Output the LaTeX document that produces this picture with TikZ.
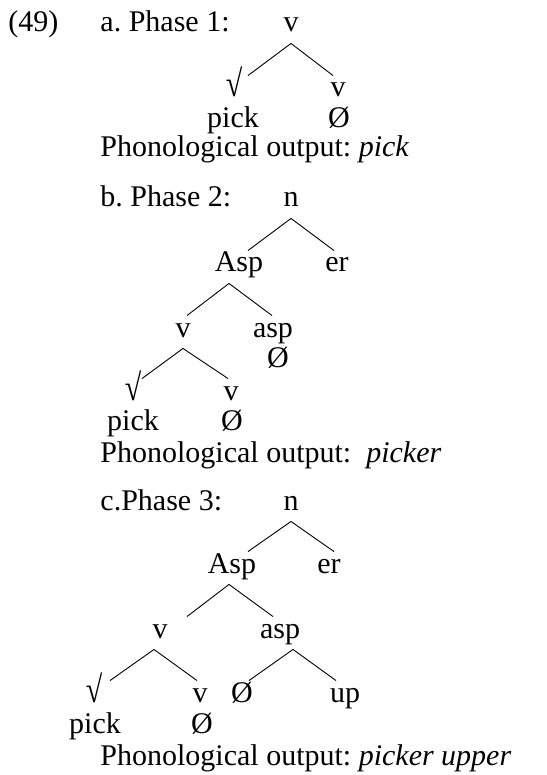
\documentclass[tikz,border=0pt]{standalone}
\usepackage{fontspec}
\setmainfont{Liberation Serif}
\frenchspacing
\newcommand{\rootsym}{\scalebox{1}[1.25]{√}}
\tikzset{
  every picture/.style={line width=0.9pt, x=1pt, y=-1pt, font=\fontsize{30}{36}\selectfont},
  lab/.style={inner sep=0pt, anchor=base, text height=21pt, text depth=11pt},
  txt/.style={inner sep=0pt, anchor=base west},
  branch/.style={draw=black, line width=0.9pt},
}

\begin{document}
\begin{tikzpicture}
  \useasboundingbox (0,0) rectangle (546,775);
  % a. phase 1
  \node[txt] (ex) at (8,32) {(49)};
  \node[txt] (pa) at (100,32) {a. Phase 1:};
  \node[lab] (a-v) at (291,32) {v};
  \node[lab] (a-rt) at (234,97) {\rootsym};
  \node[lab] (a-vv) at (338,97) {v};
  \node[lab] (a-pick) at (233,128) {pick};
  \node[lab] (a-nul) at (339,128) {Ø};
  \node[txt] (a-out) at (100,157) {Phonological output: \textit{pick}};
  \draw[branch] (a-v.south) -- ([xshift=14pt]a-rt.north);
  \draw[branch] (a-v.south) -- ([xshift=-5pt]a-vv.north);

  % b. phase 2
  \node[txt] (pb) at (100,207) {b. Phase 2:};
  \node[lab] (b-n) at (291,207) {n};
  \node[lab] (b-Asp) at (239,272) {Asp};
  \node[lab] (b-er) at (337,272) {er};
  \node[lab] (b-v) at (183,337) {v};
  \node[lab] (b-asp) at (273,337) {asp};
  \node[lab] (b-aspnul) at (278,367) {Ø};
  \node[lab] (b-rt) at (133,400) {\rootsym};
  \node[lab] (b-vv) at (231,400) {v};
  \node[lab] (b-pick) at (133,430) {pick};
  \node[lab] (b-nul) at (232,430) {Ø};
  \node[txt] (b-out) at (100,462) {Phonological output:\ \ \textit{picker}};
  \draw[branch] (b-n.south) -- ([xshift=9pt]b-Asp.north);
  \draw[branch] (b-n.south) -- ([xshift=-3pt]b-er.north);
  \draw[branch] ([xshift=-10pt]b-Asp.south) -- ([xshift=4pt]b-v.north);
  \draw[branch] ([xshift=-10pt]b-Asp.south) -- ([xshift=-1pt]b-asp.north);
  \draw[branch] (b-v.south) -- ([xshift=9pt]b-rt.north);
  \draw[branch] (b-v.south) -- ([xshift=-3pt]b-vv.north);

  % c. phase 3
  \node[txt] (pc) at (100,510) {c.Phase 3:};
  \node[lab] (c-n) at (291,510) {n};
  \node[lab] (c-Asp) at (232,573) {Asp};
  \node[lab] (c-er) at (329,573) {er};
  \node[lab] (c-v) at (160,638) {v};
  \node[lab] (c-asp) at (280,638) {asp};
  \node[lab] (c-rt) at (94,702) {\rootsym};
  \node[lab] (c-vv) at (200,702) {v};
  \node[lab] (c-aspnul) at (242,702) {Ø};
  \node[lab] (c-up) at (345,702) {up};
  \node[lab] (c-pick) at (95,733) {pick};
  \node[lab] (c-nul) at (202,733) {Ø};
  \node[txt] (c-out) at (100,765) {Phonological output: \textit{picker upper}};
  \draw[branch] (c-n.south) -- ([xshift=16pt]c-Asp.north);
  \draw[branch] (c-n.south) -- ([xshift=5pt]c-er.north);
  \draw[branch] ([xshift=-3pt]c-Asp.south) -- ([xshift=27pt]c-v.north);
  \draw[branch] ([xshift=-3pt]c-Asp.south) -- ([xshift=-7pt]c-asp.north);
  \draw[branch] ([xshift=-6pt]c-v.south) -- ([xshift=16pt]c-rt.north);
  \draw[branch] ([xshift=-6pt]c-v.south) -- ([xshift=-3pt]c-vv.north);
  \draw[branch] ([xshift=13pt]c-asp.south) -- ([xshift=7pt]c-aspnul.north);
  \draw[branch] ([xshift=13pt]c-asp.south) -- ([xshift=-9pt]c-up.north);
\end{tikzpicture}
\end{document}
